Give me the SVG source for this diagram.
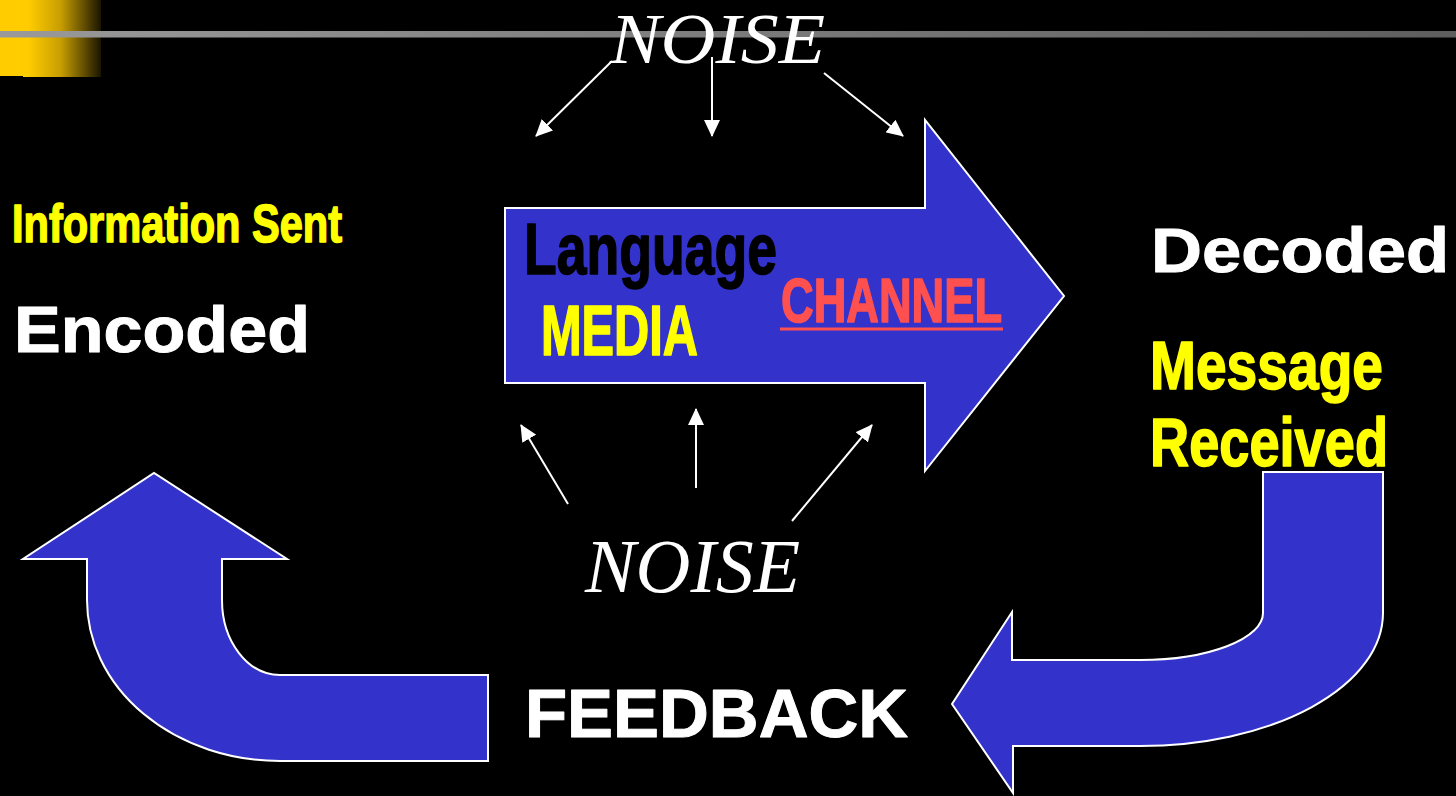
<svg xmlns="http://www.w3.org/2000/svg" width="1456" height="796" viewBox="0 0 1456 796">
<defs>
<linearGradient id="gy" x1="0" y1="0" x2="101" y2="0" gradientUnits="userSpaceOnUse">
<stop offset="0" stop-color="#FFCC00"/>
<stop offset="0.28" stop-color="#FFCC00"/>
<stop offset="0.6" stop-color="#C89E00"/>
<stop offset="1" stop-color="#1A1500"/>
</linearGradient>
<linearGradient id="gl" x1="0" y1="0" x2="1456" y2="0" gradientUnits="userSpaceOnUse">
<stop offset="0" stop-color="#999999"/>
<stop offset="1" stop-color="#5E5E5E"/>
</linearGradient>
<marker id="ah" markerUnits="userSpaceOnUse" markerWidth="18" markerHeight="16" refX="16" refY="8" orient="auto">
<path d="M0,0 L17,8 L0,16 Z" fill="#FFFFFF"/>
</marker>
<style>
.blk{fill:#3333CC;stroke:#FFFFFF;stroke-width:2;stroke-linejoin:miter}
.imp{font-family:"Liberation Sans",Arial,sans-serif;font-weight:bold;stroke-width:1.6;stroke-linejoin:round}
.wide{font-family:"Liberation Sans",Arial,sans-serif;font-weight:900;stroke-width:1;stroke-linejoin:round}
.noise{font-family:"Liberation Serif","DejaVu Serif",serif;font-style:italic;fill:#FFFFFF}
.con{stroke:#FFFFFF;stroke-width:2;fill:none;marker-end:url(#ah)}
</style>
</defs>
<rect x="0" y="0" width="1456" height="796" fill="#000000"/>
<g id="decor">
<path d="M0,0 H101 V77 H23 V76 H0 Z" fill="url(#gy)"/>
<rect x="0" y="31" width="1456" height="6.5" fill="url(#gl)"/>
</g>
<g id="channel-arrow">
<path class="blk" d="M505,208 H925 V120 L1064,296 L925,471 V383 H505 Z"/>
<text class="imp" x="524" y="274" font-size="72" fill="#000000" stroke="#000000" textLength="253" lengthAdjust="spacingAndGlyphs">Language</text>
<text class="imp" x="541" y="355" font-size="70" fill="#FFFF00" stroke="#FFFF00" textLength="157" lengthAdjust="spacingAndGlyphs">MEDIA</text>
<text class="imp" x="781" y="322" font-size="63" fill="#FF5050" stroke="#FF5050" textLength="221" lengthAdjust="spacingAndGlyphs">CHANNEL</text>
<rect x="780" y="327.5" width="223" height="3" fill="#FF5050"/>
</g>
<g id="sender">
<text class="imp" x="12" y="242" font-size="53" fill="#FFFF00" stroke="#FFFF00" textLength="330" lengthAdjust="spacingAndGlyphs">Information Sent</text>
<text class="wide" x="14" y="352" font-size="65" fill="#FFFFFF" stroke="#FFFFFF" textLength="296" lengthAdjust="spacingAndGlyphs">Encoded</text>
</g>
<g id="receiver">
<text class="wide" x="1151" y="272" font-size="63" fill="#FFFFFF" stroke="#FFFFFF" textLength="298" lengthAdjust="spacingAndGlyphs">Decoded</text>
<text class="imp" x="1150" y="389" font-size="69" fill="#FFFF00" stroke="#FFFF00" textLength="233" lengthAdjust="spacingAndGlyphs">Message</text>
<text class="imp" x="1150" y="466" font-size="69" fill="#FFFF00" stroke="#FFFF00" textLength="238" lengthAdjust="spacingAndGlyphs">Received</text>
</g>
<g id="return-arrow">
<path class="blk" d="M1263,472 H1383 V613 A243,133 0 0 1 1140,746 H1013 V793 L952,704 L1012,612 V660 H1140 A123,47 0 0 0 1263,613 Z"/>
</g>
<g id="feedback-arrow">
<path class="blk" d="M488,675 V761 H280 A193,161 0 0 1 87,600 V559 H23 L154,473 L287,559 H222 V600 A58,75 0 0 0 280,675 Z"/>
<text class="wide" x="525" y="737" font-size="68" fill="#FFFFFF" stroke="#FFFFFF" textLength="383" lengthAdjust="spacingAndGlyphs">FEEDBACK</text>
</g>
<g id="noise-top">
<text class="noise" x="610" y="63" font-size="72" textLength="215" lengthAdjust="spacingAndGlyphs">NOISE</text>
</g>
<g id="noise-bottom">
<text class="noise" x="585" y="592" font-size="76" textLength="215" lengthAdjust="spacingAndGlyphs">NOISE</text>
</g>
<g id="connectors">
<line class="con" x1="612" y1="61" x2="536" y2="136"/>
<line class="con" x1="712" y1="57" x2="712" y2="136"/>
<line class="con" x1="824" y1="73" x2="903" y2="136"/>
<line class="con" x1="568" y1="504" x2="521" y2="425"/>
<line class="con" x1="696" y1="488" x2="696" y2="409"/>
<line class="con" x1="792" y1="521" x2="872" y2="425"/>
</g>
</svg>
